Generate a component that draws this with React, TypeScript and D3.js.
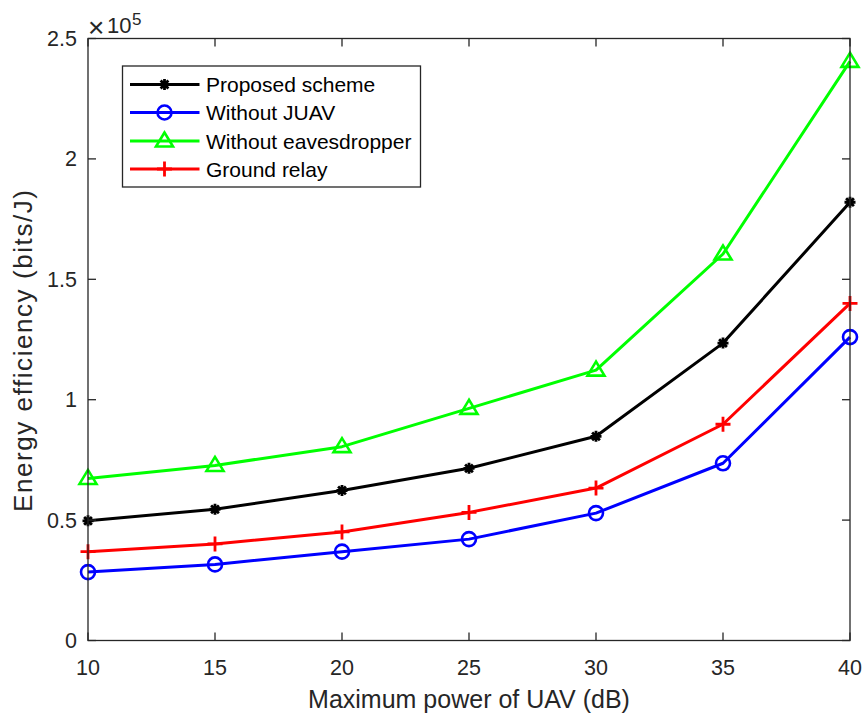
import React from "react";
import * as d3 from "d3";

const xValues = [10, 15, 20, 25, 30, 35, 40];
const proposed = [0.497, 0.545, 0.623, 0.715, 0.848, 1.235, 1.82];
const withoutJUAV = [0.284, 0.316, 0.369, 0.421, 0.529, 0.736, 1.26];
const withoutEve = [0.673, 0.727, 0.805, 0.964, 1.123, 1.605, 2.405];
const groundRelay = [0.369, 0.401, 0.451, 0.532, 0.633, 0.898, 1.40];
const seriesNames = ["Proposed scheme", "Without JUAV", "Without eavesdropper", "Ground relay"];
const seriesColors = ["#000000", "#0000ff", "#00ff00", "#ff0000"];
const seriesMarkers = ["asterisk", "circle", "triangle", "plus"];
const xTicks = [10, 15, 20, 25, 30, 35, 40];
const yTicks = [0, 0.5, 1, 1.5, 2, 2.5];

const W = 864, H = 714;
const left = 88, right = 850, top = 38.5, bottom = 640.5;
const FONT = "'Liberation Sans', Arial, Helvetica, sans-serif";
const AX = "#262626";

function Marker({ type, x, y, color }: { type: string; x: number; y: number; color: string }) {
  if (type === "circle") {
    return <circle cx={x} cy={y} r={7} fill="none" stroke={color} strokeWidth={2.6} />;
  }
  if (type === "triangle") {
    const p = d3.path();
    p.moveTo(x, y - 8.5);
    p.lineTo(x - 8.5, y + 5.5);
    p.lineTo(x + 8.5, y + 5.5);
    p.closePath();
    return <path d={p.toString()} fill="none" stroke={color} strokeWidth={2.6} strokeLinejoin="miter" />;
  }
  if (type === "plus") {
    const a = 7.5;
    return (
      <path d={`M${x - a},${y}L${x + a},${y}M${x},${y - a}L${x},${y + a}`} stroke={color} strokeWidth={2.8} fill="none" />
    );
  }
  // asterisk
  const a = 5.5, b = a * Math.SQRT1_2;
  return (
    <path
      d={`M${x - a},${y}L${x + a},${y}M${x},${y - a}L${x},${y + a}M${x - b},${y - b}L${x + b},${y + b}M${x - b},${y + b}L${x + b},${y - b}`}
      stroke={color}
      strokeWidth={2.8}
      fill="none"
    />
  );
}

export default function App() {
  const xScale = d3.scaleLinear().domain([10, 40]).range([left, right]);
  const yScale = d3.scaleLinear().domain([0, 2.5]).range([bottom, top]);
  const allSeries = [proposed, withoutJUAV, withoutEve, groundRelay];
  const line = d3
    .line<number>()
    .x((_, i) => xScale(xValues[i]))
    .y((d) => yScale(d));
  const tickLen = 8;
  const legX = 122.5, legY = 66, legW = 298, legH = 121;
  const rowY = [84.5, 112.5, 141, 169];

  return (
    <svg width={W} height={H} style={{ display: "block", position: "absolute", left: 0, top: 0 }} fontFamily={FONT}>
      <rect x={0} y={0} width={W} height={H} fill="#ffffff" />
      {/* series */}
      {allSeries.map((s, si) => (
        <g key={si}>
          <path d={line(s) || ""} fill="none" stroke={seriesColors[si]} strokeWidth={3} strokeLinejoin="round" />
          {s.map((v, i) => (
            <Marker key={i} type={seriesMarkers[si]} x={xScale(xValues[i])} y={yScale(v)} color={seriesColors[si]} />
          ))}
        </g>
      ))}
      {/* axes box */}
      <rect x={left} y={top} width={right - left} height={bottom - top} fill="none" stroke={AX} strokeWidth={1.3} />
      {xTicks.map((t) => (
        <g key={"x" + t}>
          <line x1={xScale(t)} x2={xScale(t)} y1={bottom} y2={bottom - tickLen} stroke={AX} strokeWidth={1.3} />
          <line x1={xScale(t)} x2={xScale(t)} y1={top} y2={top + tickLen} stroke={AX} strokeWidth={1.3} />
          <text x={xScale(t)} y={675} textAnchor="middle" fontSize={21.5} fill={AX}>
            {t}
          </text>
        </g>
      ))}
      {yTicks.map((t) => (
        <g key={"y" + t}>
          <line x1={left} x2={left + tickLen} y1={yScale(t)} y2={yScale(t)} stroke={AX} strokeWidth={1.3} />
          <line x1={right} x2={right - tickLen} y1={yScale(t)} y2={yScale(t)} stroke={AX} strokeWidth={1.3} />
          <text x={77} y={yScale(t) + 7.5} textAnchor="end" fontSize={21.5} fill={AX}>
            {d3.format("~g")(t)}
          </text>
        </g>
      ))}
      {/* exponent */}
      <text x={88} y={37} fontSize={28} fill={AX}>×</text>
      <text x={107} y={33} fontSize={22} fill={AX}>10</text>
      <text x={132} y={25} fontSize={17} fill={AX}>5</text>
      {/* labels */}
      <text x={(left + right) / 2} y={708} textAnchor="middle" fontSize={25} fill={AX}>
        Maximum power of UAV (dB)
      </text>
      <text
        transform={`translate(32,${351}) rotate(-90)`}
        textAnchor="middle"
        fontSize={26}
        textLength={322}
        lengthAdjust="spacing"
        fill={AX}
      >
        Energy efficiency (bits/J)
      </text>
      {/* legend */}
      <rect x={legX} y={legY} width={legW} height={legH} fill="#ffffff" stroke={AX} strokeWidth={1.3} />
      {seriesNames.map((n, i) => (
        <g key={n}>
          <line x1={130} x2={199.5} y1={rowY[i]} y2={rowY[i]} stroke={seriesColors[i]} strokeWidth={3} />
          <Marker type={seriesMarkers[i]} x={164.5} y={rowY[i]} color={seriesColors[i]} />
          <text x={206} y={rowY[i] + 7.5} fontSize={21} fill="#000">
            {n}
          </text>
        </g>
      ))}
    </svg>
  );
}
